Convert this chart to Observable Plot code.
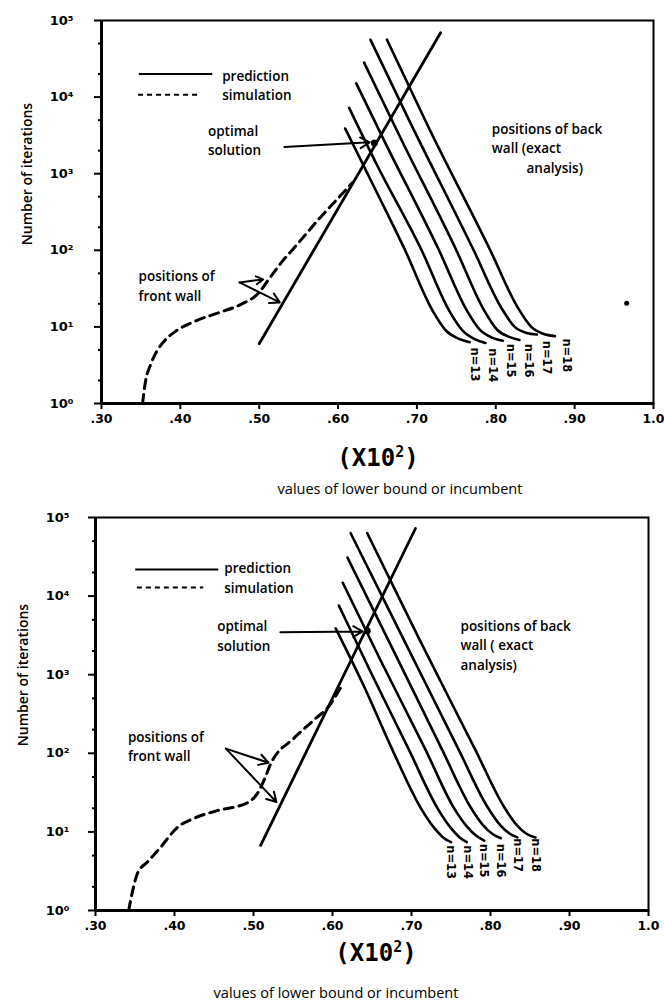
<!DOCTYPE html>
<html><head><meta charset="utf-8">
<script src="https://cdn.jsdelivr.net/npm/d3@7"></script>
<script src="https://cdn.jsdelivr.net/npm/@observablehq/plot@0.6"></script>
<style>
body{margin:0;background:#fff;}
#root{position:relative;width:664px;height:1003px;overflow:hidden;font-family:"Open Sans",sans-serif;color:#000;}
.abs{position:absolute;white-space:nowrap;}
.panel{position:absolute;left:0;}
.panel svg{display:block;}
</style></head><body><div id="root"></div>
<script>
// ---------- tick labels ----------
const xTicks = [0.3, 0.4, 0.5, 0.6, 0.7, 0.8, 0.9, 1.0];
const xTickLabels = [".30", ".40", ".50", ".60", ".70", ".80", ".90", "1.0"];
const yTicks = [1, 10, 100, 1000, 10000, 100000];
const yTickLabels = ["10⁰", "10¹", "10²", "10³", "10⁴", "10⁵"];
const yMinorTicks = [2, 5, 20, 50, 200, 500, 2000, 5000, 20000, 50000];
const nLabels = ["n=13", "n=14", "n=15", "n=16", "n=17", "n=18"];

// ---------- top panel data: [x, log10(iterations)] ----------
const topPrediction = [[0.500, 0.78], [0.730, 4.84]];
const topSimulation = [[0.352,0.00],[0.356,0.30],[0.362,0.50],[0.370,0.68],[0.380,0.82],[0.395,0.95],[0.420,1.08],[0.450,1.19],[0.478,1.30],[0.500,1.45],[0.512,1.62],[0.525,1.80],[0.550,2.10],[0.575,2.40],[0.600,2.68],[0.618,2.88]];
const topBackWall = [
  [[0.609,3.59],[0.647,2.80],[0.685,2.00],[0.720,1.21],[0.737,0.95],[0.752,0.85],[0.767,0.80]],
  [[0.614,3.86],[0.650,3.10],[0.706,2.00],[0.741,1.21],[0.758,0.95],[0.773,0.84],[0.787,0.79]],
  [[0.623,4.18],[0.660,3.40],[0.728,2.00],[0.763,1.22],[0.780,0.96],[0.795,0.86],[0.809,0.82]],
  [[0.633,4.45],[0.680,3.45],[0.750,2.00],[0.785,1.22],[0.802,0.96],[0.817,0.87],[0.830,0.83]],
  [[0.641,4.75],[0.690,3.70],[0.772,2.00],[0.807,1.25],[0.824,1.00],[0.839,0.92],[0.852,0.90]],
  [[0.662,4.75],[0.715,3.60],[0.793,2.00],[0.828,1.25],[0.845,1.00],[0.860,0.91],[0.875,0.88]]
];
const topNLabelPos = [[0.773,0.73],[0.796,0.72],[0.819,0.78],[0.842,0.78],[0.865,0.82],[0.890,0.85]];
const topOptimal = [[0.646, 3.40]];
const topLegendSolid = [[0.348, 0.441, 4.30]];
const topLegendDashed = [[0.347, 0.425, 4.03]];
const topNotes = [
  [0.453, 4.27, "prediction", "italic"], [0.453, 4.02, "simulation", "normal"],
  [0.435, 3.55, "optimal", "normal"], [0.435, 3.30, "solution", "normal"],
  [0.795, 3.58, "positions of back", "normal"], [0.795, 3.33, "wall (exact", "normal"], [0.839, 3.07, "analysis)", "normal"],
  [0.347, 1.65, "positions of", "normal"], [0.347, 1.40, "front wall", "normal"]
];
const topArrows = [[0.532,3.35,0.640,3.41],[0.475,1.58,0.505,1.62],[0.475,1.58,0.526,1.32]];
const topSpeck = [[0.966, 1.31]];

// ---------- bottom panel data ----------
const botPrediction = [[0.509, 0.83], [0.705, 4.86]];
const botSimulation = [[0.342,0.00],[0.347,0.25],[0.353,0.47],[0.366,0.62],[0.382,0.80],[0.404,1.06],[0.424,1.17],[0.454,1.27],[0.492,1.37],[0.505,1.49],[0.513,1.65],[0.522,1.87],[0.551,2.19],[0.576,2.42],[0.597,2.62],[0.610,2.83]];
const botBackWall = [
  [[0.604,3.59],[0.640,2.85],[0.676,2.04],[0.712,1.30],[0.728,1.06],[0.740,0.93],[0.750,0.87]],
  [[0.608,3.88],[0.650,3.00],[0.697,2.04],[0.733,1.30],[0.749,1.06],[0.761,0.93],[0.770,0.87]],
  [[0.613,4.17],[0.660,3.20],[0.718,2.04],[0.754,1.30],[0.770,1.07],[0.782,0.95],[0.792,0.89]],
  [[0.619,4.49],[0.680,3.25],[0.739,2.04],[0.775,1.31],[0.791,1.08],[0.803,0.97],[0.813,0.92]],
  [[0.623,4.80],[0.690,3.45],[0.760,2.04],[0.796,1.32],[0.812,1.09],[0.824,0.98],[0.834,0.93]],
  [[0.644,4.80],[0.710,3.45],[0.781,2.04],[0.817,1.32],[0.833,1.09],[0.845,0.98],[0.857,0.93]]
];
const botNLabelPos = [[0.749,0.83],[0.771,0.83],[0.792,0.85],[0.813,0.85],[0.835,0.92],[0.857,0.92]];
const botOptimal = [[0.644, 3.56]];
const botLegendSolid = [[0.351, 0.456, 4.34]];
const botLegendDashed = [[0.353, 0.437, 4.11]];
const botNotes = [
  [0.463, 4.35, "prediction", "normal"], [0.463, 4.10, "simulation", "normal"],
  [0.454, 3.61, "optimal", "normal"], [0.454, 3.36, "solution", "normal"],
  [0.762, 3.61, "positions of back", "normal"], [0.762, 3.37, "wall ( exact", "normal"], [0.762, 3.12, "analysis)", "normal"],
  [0.341, 2.20, "positions of", "normal"], [0.341, 1.96, "front wall", "normal"]
];
const botArrows = [[0.534,3.54,0.638,3.55],[0.465,2.06,0.519,1.88],[0.465,2.06,0.529,1.38]];

// ---------- rendering ----------
const fmtX = d => xTickLabels[xTicks.findIndex(t => Math.abs(t - d) < 1e-9)];
const fmtY = d => yTickLabels[yTicks.findIndex(t => Math.abs(t - d) < 1e-9)];
const pt = ([x, d]) => ({x, y: 10 ** d});

function makePanel(c) {
  const backRows = c.back.flatMap((pts, i) => pts.map(p => ({...pt(p), n: nLabels[i]})));
  const nRows = c.nPos.map((p, i) => ({...pt(p), t: nLabels[i]}));
  const noteRows = c.notes.map(([x, d, t, s]) => ({x, y: 10 ** d, t, s}));
  const arrowRows = c.arrows.map(([a, b, e, f]) => ({x1: a, y1: 10 ** b, x2: e, y2: 10 ** f}));
  const legS = c.legS.map(([a, b, d]) => ({x1: a, x2: b, y: 10 ** d}));
  const legD = c.legD.map(([a, b, d]) => ({x1: a, x2: b, y: 10 ** d}));
  const marks = [
    Plot.frame({strokeWidth: 2}),
    Plot.ruleX([0.3], {strokeWidth: 3}),
    Plot.ruleY([1], {strokeWidth: 3}),
    Plot.axisX({ticks: xTicks, tickFormat: fmtX, tickSize: 6, tickPadding: 5, fontSize: 12.5, fontWeight: "bold", fontFamily: "DejaVu Sans", label: null, strokeWidth: 2}),
    Plot.axisY({ticks: yTicks, tickFormat: fmtY, tickSize: 7, tickPadding: c.yPad, fontSize: 13, fontWeight: "bold", fontFamily: "DejaVu Sans", label: null, strokeWidth: 2}),
    Plot.axisY({ticks: yMinorTicks, tickFormat: () => "", tickSize: 3, label: null, strokeWidth: 2}),
    Plot.line(c.pred.map(pt), {x: "x", y: "y", strokeWidth: 2.8}),
    Plot.line(c.sim.map(pt), {x: "x", y: "y", strokeWidth: 3, strokeDasharray: "9,6", curve: "monotone-x"}),
    Plot.line(backRows, {x: "x", y: "y", z: "n", strokeWidth: 2.6, curve: "monotone-x"}),
    Plot.text(nRows, {x: "x", y: "y", text: "t", rotate: 90, textAnchor: "start", lineAnchor: "middle", fontSize: 11.5, fontWeight: "bold", fontFamily: "DejaVu Sans"}),
    Plot.ruleY(legS, {x1: "x1", x2: "x2", y: "y", strokeWidth: 2}),
    Plot.ruleY(legD, {x1: "x1", x2: "x2", y: "y", strokeWidth: 2, strokeDasharray: "5,4"}),
    Plot.text(noteRows, {x: "x", y: "y", text: "t", textAnchor: "start", fontSize: 13.5, fontWeight: 600, fontFamily: "Open Sans", fontStyle: d => d.s}),
    Plot.arrow(arrowRows, {x1: "x1", y1: "y1", x2: "x2", y2: "y2", strokeWidth: 2, headLength: 8}),
    Plot.dot(c.opt.map(pt), {x: "x", y: "y", r: 3.5, fill: "black"})
  ];
  if (c.speck) marks.push(Plot.dot(c.speck.map(pt), {x: "x", y: "y", r: 2.5, fill: "black"}));
  const svg = Plot.plot({
    width: 664, height: c.height,
    marginTop: c.mt, marginBottom: c.mb, marginLeft: c.ml, marginRight: c.mr,
    x: {domain: [0.3, 1.0], label: null},
    y: {type: "log", domain: [1, 1e5], label: null},
    style: {background: "white", color: "black"},
    marks
  });
  const wrap = document.createElement("div");
  wrap.className = "panel";
  wrap.style.top = c.top + "px";
  wrap.appendChild(svg);
  return wrap;
}

const root = document.getElementById("root");
root.appendChild(makePanel({top: 0, height: 440, mt: 20, mb: 37, ml: 101, mr: 11, yPad: 21,
  pred: topPrediction, sim: topSimulation, back: topBackWall, nPos: topNLabelPos, opt: topOptimal,
  legS: topLegendSolid, legD: topLegendDashed, notes: topNotes, arrows: topArrows, speck: topSpeck}));
root.appendChild(makePanel({top: 500, height: 440, mt: 17, mb: 30, ml: 95, mr: 16, yPad: 19,
  pred: botPrediction, sim: botSimulation, back: botBackWall, nPos: botNLabelPos, opt: botOptimal,
  legS: botLegendSolid, legD: botLegendDashed, notes: botNotes, arrows: botArrows}));

function addText(html, left, top, css, rotate) {
  const el = document.createElement("div");
  el.className = "abs";
  el.innerHTML = html;
  el.style.cssText += css;
  el.style.left = left + "px";
  el.style.top = top + "px";
  el.style.transform = rotate ? "translate(-50%,-50%) rotate(-90deg)" : "translate(-50%,-50%)";
  root.appendChild(el);
}
const bigCss = "font-family:'DejaVu Sans Mono',monospace;font-size:24px;line-height:1;font-weight:bold;";
const capCss = "font-family:'Open Sans',sans-serif;font-size:14.5px;font-weight:500;";
const yTitleCss = "font-family:'Open Sans',sans-serif;font-size:14px;font-weight:600;";
addText("(X10<sup style='font-size:15px;vertical-align:9px'>2</sup>)", 378, 457, bigCss);
addText("values of lower bound or incumbent", 400, 488, capCss);
addText("Number of iterations", 26, 174, yTitleCss, true);
addText("(X10<sup style='font-size:15px;vertical-align:9px'>2</sup>)", 376, 952, bigCss);
addText("values of lower bound or incumbent", 336, 992, capCss);
addText("Number of iterations", 22, 675, yTitleCss, true);
</script></body></html>
